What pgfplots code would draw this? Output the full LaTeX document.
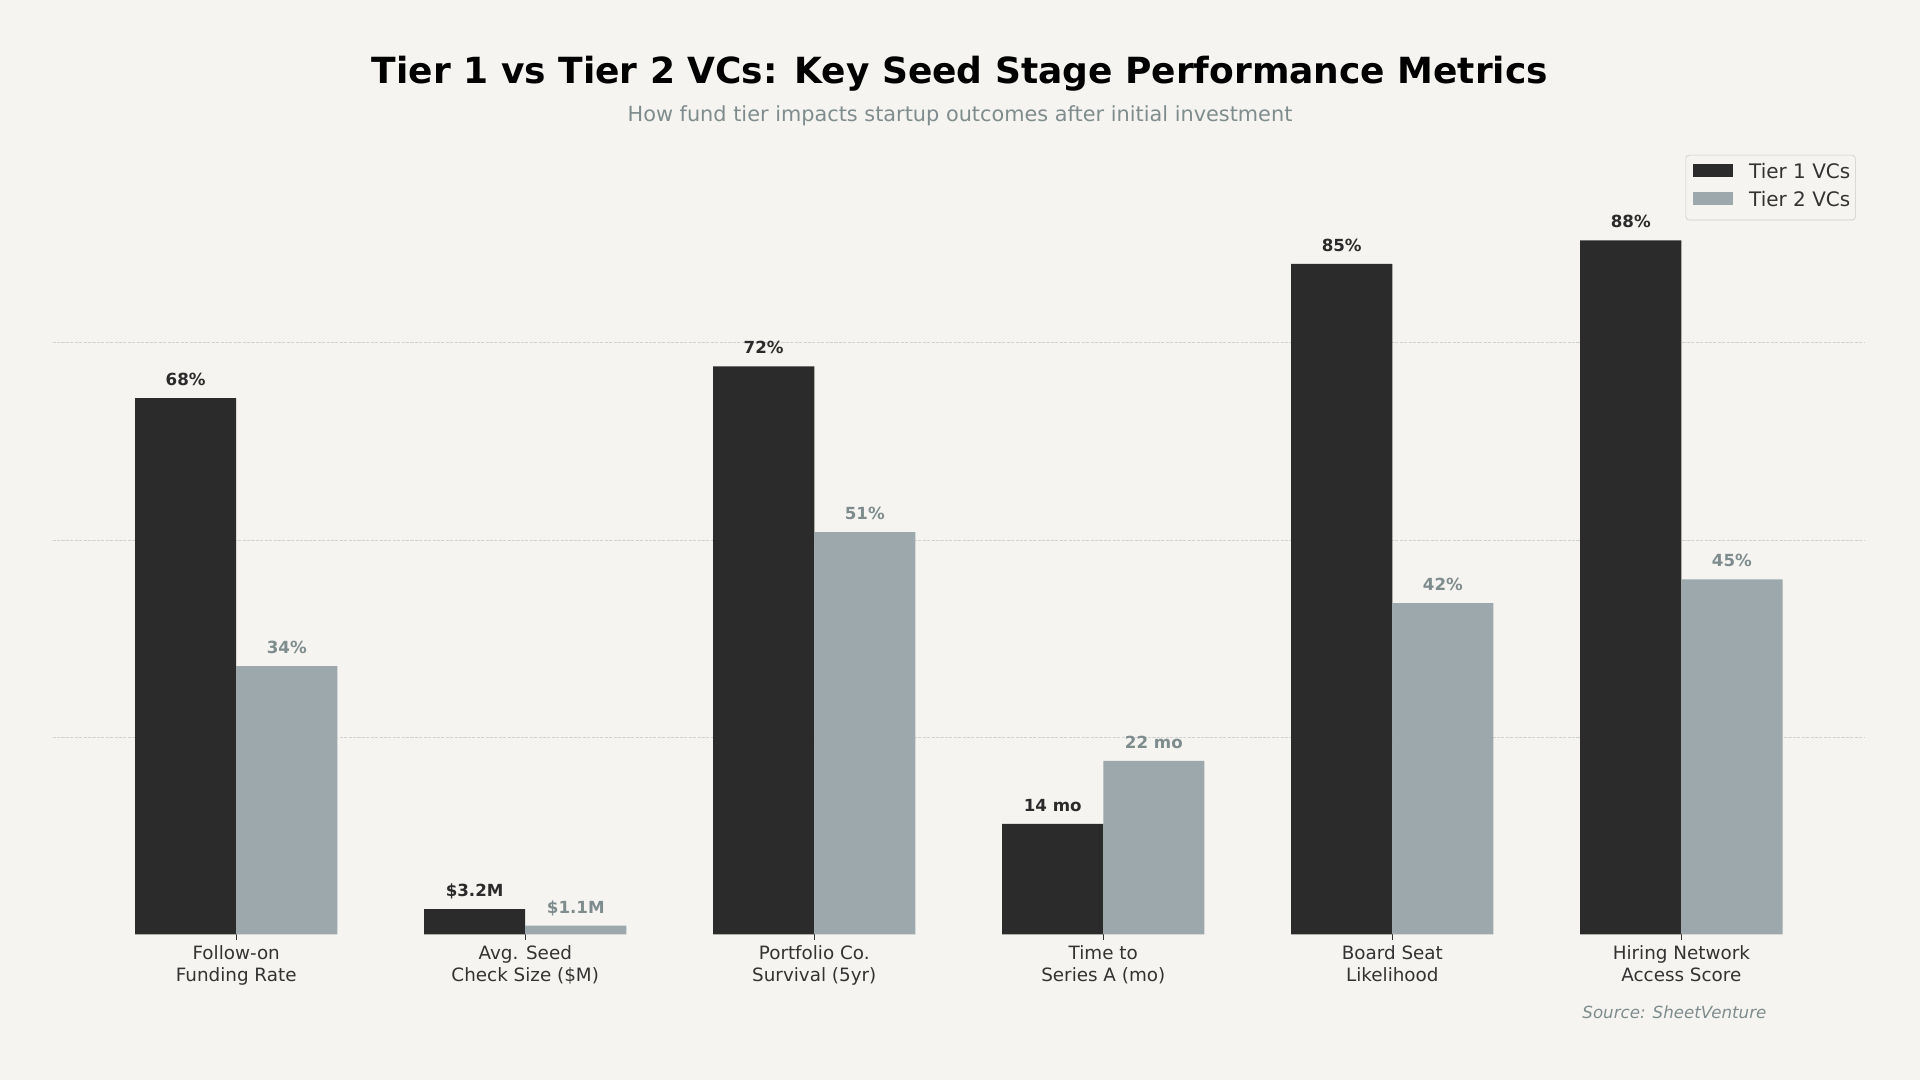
\documentclass[border=0pt]{standalone}
\usepackage{fontspec}
\setmainfont{DejaVu Sans}
\usepackage{pgfplots}
\pgfplotsset{compat=1.18}
\definecolor{bg}{HTML}{F5F4F0}
\definecolor{tone}{HTML}{2B2B2B}
\definecolor{ttwo}{HTML}{9CA8AC}
\definecolor{lab}{HTML}{7F8C8D}
\definecolor{txt}{HTML}{333333}
\definecolor{gridc}{HTML}{D2D2D2}
\definecolor{legc}{HTML}{CCCCCC}
\begin{document}
\begin{tikzpicture}
\fill[bg] (0,0) rectangle (1152pt,648pt);
\begin{axis}[
  at={(31.6pt,87.4pt)}, anchor=south west,
  scale only axis, width=1087.3pt, height=473.2pt,
  xmin=-0.635, xmax=5.635, ymin=0, ymax=100,
  axis line style={draw=none},
  xtick={0,1,2,3,4,5},
  xticklabels={Follow-on\\Funding Rate, Avg. Seed\\Check Size (\$M), Portfolio Co.\\Survival (5yr), Time to\\Series A (mo), Board Seat\\Likelihood, Hiring Network\\Access Score},
  xticklabel style={align=center, font=\fontsize{11}{12.65}\selectfont, text=txt},
  xtick pos=bottom,
  tick align=outside, major tick length=3.5pt,
  xtick style={draw=txt, line width=0.8pt},
  ytick={25,50,75}, yticklabels={}, ytick style={draw=none},
  ymajorgrids, grid style={gridc, dash pattern=on 1.85pt off 0.8pt, line width=0.5pt},
  ybar, bar width=0.35,
  legend cell align=left,
  legend style={at={(rel axis cs:1,1)}, xshift=-5.5pt, yshift=-5.5pt, anchor=north east,
    draw=legc, rounded corners=2pt, fill=bg, font=\fontsize{12}{14}\selectfont, text=txt,
    inner xsep=3pt, inner ysep=4.25pt, row sep=3.2pt, column sep=9.6pt,
    nodes={inner xsep=0pt, inner ysep=1pt, text height=9pt, text depth=2.6pt}},
]
\addplot[fill=tone, draw=none, bar shift=-0.175,
  legend image code/.code={\path (-1.4pt,0pt); \fill[tone, sharp corners] (0pt,-2.1pt) rectangle (24pt,5.9pt);},
  nodes near coords, point meta=explicit symbolic,
  nodes near coords style={anchor=base, yshift=7.5pt, inner sep=0pt, font=\bfseries\fontsize{10}{12}\selectfont, text=tone}]
coordinates {(0,68) [68\%] (1,3.2) [\$3.2M] (2,72) [72\%] (3,14) [14 mo] (4,85) [85\%] (5,88) [88\%]};
\addlegendentry{Tier 1 VCs}
\addplot[fill=ttwo, draw=none, bar shift=0.175,
  legend image code/.code={\path (-1.4pt,0pt); \fill[ttwo, sharp corners] (0pt,-2.1pt) rectangle (24pt,5.9pt);},
  nodes near coords, point meta=explicit symbolic,
  nodes near coords style={anchor=base, yshift=7.5pt, inner sep=0pt, font=\bfseries\fontsize{10}{12}\selectfont, text=lab}]
coordinates {(0,34) [34\%] (1,1.1) [\$1.1M] (2,51) [51\%] (3,22) [22 mo] (4,42) [42\%] (5,45) [45\%]};
\addlegendentry{Tier 2 VCs}
\end{axis}
\node[anchor=base, font=\bfseries\fontsize{21.6}{26}\selectfont, text=black] at (576pt,598pt) {Tier 1 vs Tier 2 VCs: Key Seed Stage Performance Metrics};
\node[anchor=base, font=\fontsize{12.5}{15}\selectfont, text=lab] at (576pt,575pt) {How fund tier impacts startup outcomes after initial investment};
\node[anchor=base east, inner sep=0pt, font=\itshape\fontsize{10}{12}\selectfont, text=lab] at (1060pt,36.6pt) {Source: SheetVenture};
\pgfresetboundingbox
\useasboundingbox (0,0) rectangle (1152pt,648pt);
\end{tikzpicture}
\end{document}
